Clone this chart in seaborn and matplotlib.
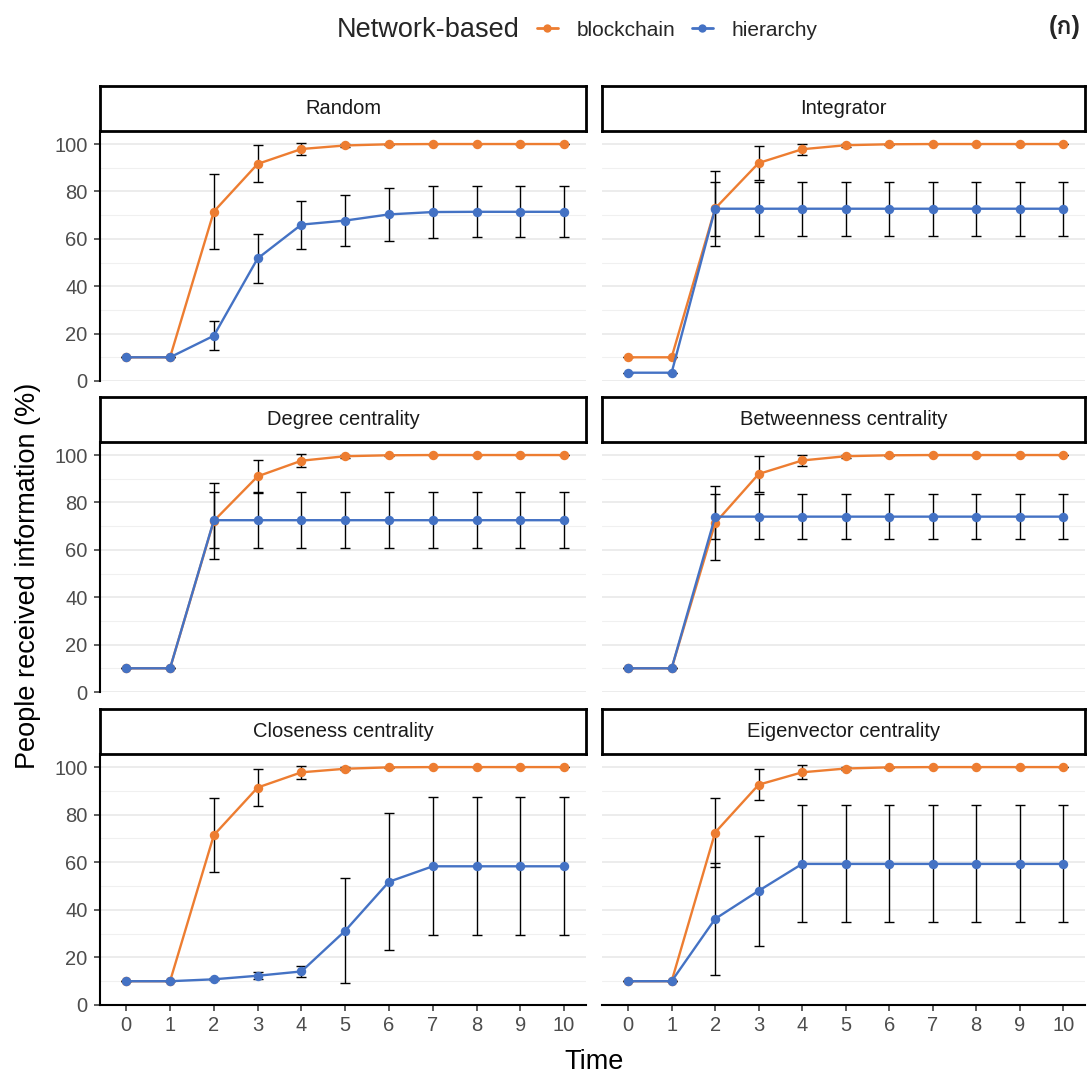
import numpy as np
import pandas as pd
import matplotlib
matplotlib.use("Agg")
import matplotlib.pyplot as plt
from matplotlib.lines import Line2D
from matplotlib import font_manager
from matplotlib.ft2font import FT2Font
import seaborn as sns

# ---- data ----
time = list(range(11))
panels = ["Random", "Integrator", "Degree centrality",
          "Betweenness centrality", "Closeness centrality", "Eigenvector centrality"]

random_bc = [10, 10, 71.5, 91.6, 97.9, 99.4, 99.9, 100, 100, 100, 100]
random_bc_err = [0, 0, 15.7, 7.8, 2.6, 0.8, 0.3, 0, 0, 0, 0]
random_hi = [10, 10, 19.1, 51.7, 66.0, 67.7, 70.3, 71.3, 71.4, 71.4, 71.4]
random_hi_err = [0, 0, 6.2, 10.3, 10.1, 10.8, 11.3, 11.0, 10.8, 10.8, 10.8]

integ_bc = [10, 10, 72.8, 92.0, 97.8, 99.5, 99.9, 100, 100, 100, 100]
integ_bc_err = [0, 0, 15.7, 7.2, 2.4, 0.7, 0.2, 0, 0, 0, 0]
integ_hi = [3.5, 3.5, 72.7, 72.7, 72.7, 72.7, 72.7, 72.7, 72.7, 72.7, 72.7]
integ_hi_err = [0, 0, 11.3, 11.3, 11.3, 11.3, 11.3, 11.3, 11.3, 11.3, 11.3]

degree_bc = [10, 10, 72.2, 91.0, 97.6, 99.5, 99.9, 100, 100, 100, 100]
degree_bc_err = [0, 0, 16.0, 7.0, 2.7, 0.7, 0.2, 0, 0, 0, 0]
degree_hi = [10, 10, 72.5, 72.5, 72.5, 72.5, 72.5, 72.5, 72.5, 72.5, 72.5]
degree_hi_err = [0, 0, 11.7, 11.7, 11.7, 11.7, 11.7, 11.7, 11.7, 11.7, 11.7]

between_bc = [10, 10, 71.3, 92.0, 97.7, 99.5, 99.9, 100, 100, 100, 100]
between_bc_err = [0, 0, 15.5, 7.5, 2.5, 0.7, 0.2, 0, 0, 0, 0]
between_hi = [10, 10, 74.0, 74.0, 74.0, 74.0, 74.0, 74.0, 74.0, 74.0, 74.0]
between_hi_err = [0, 0, 9.6, 9.6, 9.6, 9.6, 9.6, 9.6, 9.6, 9.6, 9.6]

close_bc = [10, 10, 71.4, 91.4, 97.8, 99.3, 99.9, 100, 100, 100, 100]
close_bc_err = [0, 0, 15.5, 7.6, 2.6, 0.7, 0.2, 0, 0, 0, 0]
close_hi = [10, 10, 10.8, 12.3, 14.1, 31.2, 51.8, 58.3, 58.3, 58.3, 58.3]
close_hi_err = [0, 0, 0.5, 1.4, 2.2, 22.0, 28.8, 29.0, 29.0, 29.0, 29.0]

eigen_bc = [10, 10, 72.5, 92.6, 97.8, 99.4, 99.9, 100, 100, 100, 100]
eigen_bc_err = [0, 0, 14.5, 6.5, 2.9, 0.7, 0.2, 0, 0, 0, 0]
eigen_hi = [10, 10, 36.2, 48.0, 59.3, 59.3, 59.3, 59.3, 59.3, 59.3, 59.3]
eigen_hi_err = [0, 0, 23.5, 23.0, 24.6, 24.6, 24.6, 24.6, 24.6, 24.6, 24.6]

series = {
    "Random": (random_bc, random_bc_err, random_hi, random_hi_err),
    "Integrator": (integ_bc, integ_bc_err, integ_hi, integ_hi_err),
    "Degree centrality": (degree_bc, degree_bc_err, degree_hi, degree_hi_err),
    "Betweenness centrality": (between_bc, between_bc_err, between_hi, between_hi_err),
    "Closeness centrality": (close_bc, close_bc_err, close_hi, close_hi_err),
    "Eigenvector centrality": (eigen_bc, eigen_bc_err, eigen_hi, eigen_hi_err),
}

networks = ["blockchain", "hierarchy"]
colors = {"blockchain": "#ED7D31", "hierarchy": "#4472C4"}

rows = []
for p in panels:
    bc, bc_err, hi, hi_err = series[p]
    for t in time:
        rows.append((p, "blockchain", t, bc[t], bc_err[t]))
        rows.append((p, "hierarchy", t, hi[t], hi_err[t]))
df = pd.DataFrame(rows, columns=["panel", "network", "time", "mean", "err"])


def find_thai_font():
    for f in font_manager.fontManager.ttflist:
        try:
            if 0x0E01 in FT2Font(f.fname).get_charmap():
                return f.name
        except Exception:
            pass
    return None


sns.set_theme(style="white")
plt.rcParams["font.family"] = ["Liberation Sans", "DejaVu Sans"]

W, H = 1091, 1079
fig = plt.figure(figsize=(W / 100, H / 100), dpi=100)


def box(x0, y0, x1, y1):
    # pixel box (top-left origin) -> figure fraction rect
    return [x0 / W, 1 - y1 / H, (x1 - x0) / W, (y1 - y0) / H]


cols = [(100, 586), (602, 1085)]
row_y = [(131, 381), (442, 692), (754, 1005)]

for i, p in enumerate(panels):
    r, c = divmod(i, 2)
    x0, x1 = cols[c]
    y0, y1 = row_y[r]

    ax = fig.add_axes(box(x0, y0, x1, y1))
    ax.patch.set_visible(False)
    sub = df[df["panel"] == p]

    ax.set_yticks(np.arange(0, 101, 20))
    ax.set_yticks(np.arange(10, 100, 20), minor=True)
    ax.grid(axis="y", which="major", color="#EBEBEB", linewidth=1.3)
    ax.grid(axis="y", which="minor", color="#F0F0F0", linewidth=0.8)
    ax.grid(axis="x", visible=False)
    ax.set_axisbelow(True)

    for n in networks:
        s = sub[sub["network"] == n]
        ax.errorbar(s["time"], s["mean"], yerr=s["err"], fmt="none", ecolor="black",
                    elinewidth=1.0, capsize=3.3, capthick=1.0, zorder=2)

    sns.lineplot(data=sub, x="time", y="mean", hue="network", hue_order=networks,
                 palette=colors, marker="o", markersize=6.8, markeredgewidth=0,
                 linewidth=1.7, legend=False, errorbar=None, ax=ax, zorder=3)

    ax.set_xlim(-0.6, 10.5)
    ax.set_ylim(0, 105.5)
    ax.set_xlabel("")
    ax.set_ylabel("")
    ax.set_xticks(time)

    for s in ax.spines.values():
        s.set_visible(False)
    if c == 0:
        ax.spines["left"].set_visible(True)
        ax.spines["left"].set_linewidth(1.5)
        ax.spines["left"].set_color("black")
        ax.tick_params(axis="y", which="major", left=True, length=4.5, width=1.1,
                       color="#333333", labelsize=14.5, labelcolor="#4D4D4D", pad=4.5)
    else:
        ax.tick_params(axis="y", which="major", left=False, labelleft=False)
    ax.tick_params(axis="y", which="minor", left=False)
    if r == 2:
        ax.spines["bottom"].set_visible(True)
        ax.spines["bottom"].set_linewidth(1.5)
        ax.spines["bottom"].set_color("black")
        ax.tick_params(axis="x", bottom=True, length=4.5, width=1.1, color="#333333",
                       labelsize=14.5, labelcolor="#4D4D4D", pad=3.5)
    else:
        ax.tick_params(axis="x", bottom=False, labelbottom=False)

    # strip drawn after the panel so its border stays on top
    sax = fig.add_axes(box(x0, y0 - 45, x1, y0))
    sax.set_xticks([])
    sax.set_yticks([])
    sax.set_facecolor("white")
    for s in sax.spines.values():
        s.set_linewidth(2.0)
        s.set_color("black")
    sax.text(0.5, 0.5, p, ha="center", va="center", fontsize=14.5, color="#1A1A1A")

fig.text(28 / W, 1 - 576 / H, "People received information (%)", rotation=90,
         ha="center", va="center", fontsize=19.5, color="black")
fig.text(594 / W, 1 - 1062 / H, "Time", ha="center", va="center", fontsize=19.5, color="black")

# legend on top
fig.text(337 / W, 1 - 30 / H, "Network-based", ha="left", va="center", fontsize=19.5)
handles = [Line2D([0], [0], color=colors[n], lw=2, marker="o", markersize=6,
                  markeredgewidth=0) for n in networks]
fig.legend(handles, networks, loc="center left", bbox_to_anchor=(537 / W, 1 - 30 / H),
           ncol=2, frameon=False, fontsize=15, handlelength=1.0, handletextpad=0.9,
           columnspacing=0.8, borderaxespad=0, borderpad=0)

thai = find_thai_font()
fam = ["Liberation Sans"] + ([thai] if thai else []) + ["DejaVu Sans"]
fig.text(1081 / W, 1 - 27 / H, "(ก)", ha="right", va="center", fontsize=18,
         fontweight="bold", family=fam)

fig.savefig("out.png", dpi=100)
